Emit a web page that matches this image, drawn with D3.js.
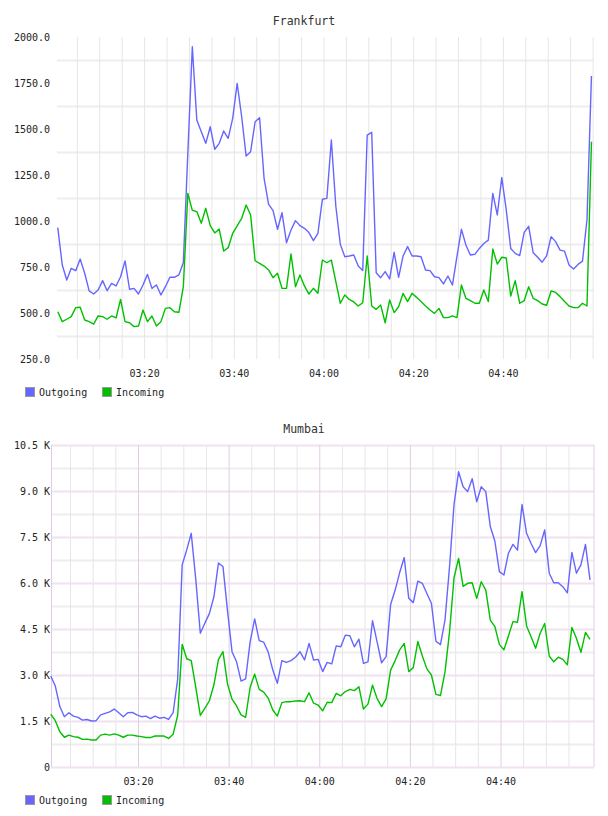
<!DOCTYPE html>
<html>
<head>
<meta charset="utf-8">
<script src="https://cdn.jsdelivr.net/npm/d3@7"></script>
<style>
body { margin: 0; background: #fff; }
text { font-family: "DejaVu Sans Mono", monospace; }
</style>
</head>
<body>
<div id="chart"></div>
<script>
// samples are one minute apart, first one at 03:00:45
const start_time = "03:00:45";
const series_names = ["Outgoing", "Incoming"];

const frankfurt_out = [964, 761, 679, 743, 730, 793, 716, 620, 603, 625, 676, 621, 661, 647, 697, 783, 629, 634, 603, 652,
  710, 634, 652, 598, 643, 694, 694, 707, 775, 1370, 1947, 1549, 1485, 1422, 1512, 1390, 1422, 1489, 1449, 1558,
  1748, 1568, 1353, 1377, 1539, 1561, 1232, 1092, 1056, 955, 1045, 882, 951, 1002, 975, 960, 937, 893, 933, 1118,
  1123, 1440, 1080, 873, 806, 810, 815, 755, 731, 1467, 1482, 719, 692, 725, 685, 830, 694, 810, 861, 810,
  810, 806, 734, 730, 697, 692, 658, 701, 652, 806, 955, 870, 815, 819, 851, 878, 896, 1150, 1033, 1236,
  1060, 851, 824, 812, 938, 971, 828, 803, 776, 810, 915, 888, 842, 836, 761, 739, 764, 782, 1006, 1788];
const frankfurt_in = [507, 453, 466, 480, 529, 531, 462, 453, 440, 484, 480, 466, 484, 473, 574, 453, 447, 426, 429, 516,
  453, 484, 429, 453, 525, 529, 507, 504, 643, 1150, 1058, 1051, 988, 1069, 975, 935, 956, 837, 855, 933,
  973, 1014, 1087, 1033, 784, 770, 755, 734, 692, 716, 634, 634, 821, 643, 707, 647, 603, 634, 607, 788,
  773, 788, 670, 553, 598, 574, 560, 538, 556, 810, 538, 520, 543, 447, 571, 502, 534, 607, 562, 607,
  585, 562, 538, 516, 498, 525, 475, 475, 484, 475, 652, 580, 567, 553, 553, 625, 562, 848, 766, 803,
  799, 592, 676, 553, 567, 643, 580, 567, 549, 542, 620, 612, 589, 562, 538, 529, 529, 553, 538, 1431];

const mumbai_out = [2970, 2640, 1970, 1640, 1770, 1660, 1620, 1530, 1550, 1500, 1510, 1700, 1750, 1800, 1890, 1770, 1640, 1770, 1780, 1700,
  1640, 1660, 1580, 1660, 1590, 1620, 1550, 1770, 2860, 6590, 7080, 7620, 6120, 4360, 4690, 5000, 5550, 6650, 6540, 5100,
  3760, 3430, 2800, 2870, 4090, 4830, 4120, 4070, 3740, 3160, 2730, 3470, 3410, 3470, 3580, 3760, 3490, 4030, 3490, 3510,
  3110, 3410, 3360, 3950, 3920, 4300, 4280, 3920, 4170, 3380, 3430, 4770, 4090, 3400, 3600, 5300, 5770, 6340, 6830, 5500,
  5360, 6060, 5990, 5660, 5340, 4100, 3990, 4790, 6530, 8570, 9630, 9140, 8980, 9400, 8650, 9140, 8980, 7840, 7370, 6370,
  6260, 6970, 7260, 7070, 8560, 7620, 7290, 6990, 7220, 7730, 6320, 6010, 6010, 5880, 5680, 7000, 6320, 6590, 7260, 6100];
const mumbai_in = [1720, 1510, 1150, 970, 1040, 990, 970, 900, 910, 880, 880, 1040, 1070, 1040, 1080, 1040, 970, 1040, 1040, 1010,
  990, 960, 960, 1010, 1010, 1010, 930, 1070, 1680, 4000, 3530, 3470, 2600, 1680, 1910, 2160, 2680, 3500, 3760, 2710,
  2210, 1990, 1700, 1620, 2600, 3030, 2530, 2440, 2240, 1860, 1660, 2100, 2130, 2130, 2150, 2160, 2130, 2420, 2080, 2020,
  1830, 2110, 2100, 2400, 2320, 2460, 2530, 2490, 2620, 1890, 2050, 2670, 2240, 1970, 2220, 3160, 3470, 3820, 4030, 3110,
  3240, 4090, 3620, 3200, 3000, 2370, 2330, 3100, 4400, 6180, 6800, 5890, 5990, 6010, 5500, 6040, 5770, 4790, 4580, 4000,
  3820, 4270, 4740, 4720, 5720, 4600, 4250, 3870, 4360, 4680, 3620, 3430, 3580, 3510, 3330, 4550, 4200, 3740, 4390, 4160];

const frankfurt_yticks = [250, 500, 750, 1000, 1250, 1500, 1750, 2000];
const mumbai_yticks = [0, 1500, 3000, 4500, 6000, 7500, 9000, 10500];
const time_labels = ["03:20", "03:40", "04:00", "04:20", "04:40"];

const blue = "#6666ff";
const green = "#00c000";
const colors = [blue, green];

const width = 608;
const height = 816;

const parseTime = d3.timeParse("%H:%M:%S");
const parseHM = d3.timeParse("%H:%M");
const t0 = parseTime(start_time);
const times = d3.range(frankfurt_out.length).map(i => d3.timeMinute.offset(t0, i));

const svg = d3.select("#chart").append("svg")
    .attr("width", width)
    .attr("height", height);

function panel(opts) {
  const g = svg.append("g");

  const x = d3.scaleTime()
    .domain([parseTime(opts.t_from), parseTime(opts.t_to)])
    .range([opts.left, opts.right]);
  const y = d3.scaleLinear()
    .domain(opts.ydomain)
    .range([opts.bottom, opts.top]);

  const step = opts.yticks[1] - opts.yticks[0];
  const halfTicks = opts.yticks.slice(0, -1).map(v => v + step / 2);
  const minuteTicks = d3.timeMinute.every(5).range(x.domain()[0], x.domain()[1]);
  const majorTimes = time_labels.map(parseHM);
  const isMajor = t => t.getMinutes() % 20 == 0;

  // grid: light lines at half steps and every 5 min
  g.append("g")
    .attr("transform", `translate(${opts.gridLeft},0)`)
    .call(d3.axisLeft(y).tickValues(halfTicks).tickSize(-(opts.right - opts.gridLeft)).tickFormat(""))
    .call(a => a.select(".domain").remove())
    .selectAll("line").attr("stroke", "#eeeeee").attr("stroke-width", 2);

  g.append("g")
    .attr("transform", `translate(0,${opts.bottom})`)
    .call(d3.axisBottom(x).tickValues(opts.pink ? minuteTicks.filter(t => !isMajor(t)) : minuteTicks)
      .tickSize(-(opts.bottom - opts.top)).tickFormat(""))
    .call(a => a.select(".domain").remove())
    .selectAll("line").attr("stroke", "#e6e6e6");

  if (opts.pink) {
    g.append("g")
      .attr("transform", `translate(${opts.gridLeft},0)`)
      .call(d3.axisLeft(y).tickValues(opts.yticks).tickSize(-(opts.right - opts.gridLeft)).tickFormat(""))
      .call(a => a.select(".domain").remove())
      .selectAll("line").attr("stroke", "#f0e2f0").attr("stroke-width", 2);

    g.append("g")
      .attr("transform", `translate(0,${opts.bottom})`)
      .call(d3.axisBottom(x).tickValues(majorTimes).tickSize(-(opts.bottom - opts.top)).tickFormat(""))
      .call(a => a.select(".domain").remove())
      .selectAll("line").attr("stroke", "#e2cce2");

    // frame left and right
    g.append("g").selectAll("line")
      .data([opts.gridLeft + 0.5, opts.right])
      .join("line")
      .attr("x1", d => d).attr("x2", d => d)
      .attr("y1", opts.top).attr("y2", opts.bottom)
      .attr("stroke", "#e2cce2");
  }

  // y labels
  g.append("g")
    .attr("transform", `translate(${opts.labelX + 9},0)`)
    .call(d3.axisLeft(y).tickValues(opts.yticks).tickSize(0).tickPadding(9).tickFormat(opts.yformat))
    .call(a => a.select(".domain").remove())
    .selectAll("text")
      .attr("fill", "#222")
      .style("font-family", "DejaVu Sans Mono")
      .style("font-size", "10px");

  // x labels
  g.append("g")
    .attr("transform", `translate(0,${opts.bottom})`)
    .call(d3.axisBottom(x).tickValues(majorTimes).tickSize(0).tickPadding(11).tickFormat(d3.timeFormat("%H:%M")))
    .call(a => a.select(".domain").remove())
    .selectAll("text")
      .attr("fill", "#222")
      .style("font-family", "DejaVu Sans Mono")
      .style("font-size", "10px");

  // lines
  const line = d3.line()
    .x((d, i) => x(times[i]))
    .y(d => y(d));

  [opts.outgoing, opts.incoming].forEach((s, i) => {
    g.append("path")
      .attr("d", line(s))
      .attr("fill", "none")
      .attr("stroke", colors[i])
      .attr("stroke-width", 1.4)
      .attr("stroke-linejoin", "round");
  });

  // title
  g.append("text")
    .attr("x", 304)
    .attr("y", opts.titleY)
    .attr("text-anchor", "middle")
    .attr("fill", "#333")
    .style("font-size", "11.5px")
    .text(opts.title);

  // legend
  const legend = g.append("g")
    .attr("transform", `translate(25,${opts.legendY})`);
  const items = legend.selectAll("g")
    .data(series_names)
    .join("g")
    .attr("transform", (d, i) => `translate(${i * 77},0)`);
  items.append("rect")
    .attr("x", 0.5).attr("y", 0.5)
    .attr("width", 9).attr("height", 9)
    .attr("fill", (d, i) => colors[i])
    .attr("stroke", "#999");
  items.append("text")
    .attr("x", 14)
    .attr("y", 9)
    .attr("fill", "#222")
    .style("font-size", "10px")
    .text(d => d);
}

panel({
  title: "Frankfurt", titleY: 25,
  outgoing: frankfurt_out, incoming: frankfurt_in,
  ydomain: [250, 2000], yticks: frankfurt_yticks,
  yformat: d3.format(".1f"),
  t_from: "03:00:44", t_to: "05:00:19",
  left: 57.7, gridLeft: 57, right: 594, top: 37, bottom: 359,
  labelX: 50, legendY: 387, pink: false
});

panel({
  title: "Mumbai", titleY: 433,
  outgoing: mumbai_out, incoming: mumbai_in,
  ydomain: [0, 10500], yticks: mumbai_yticks,
  yformat: v => v == 0 ? "0" : d3.format(".1f")(v / 1000) + " K",
  t_from: "03:00:48", t_to: "05:00:38",
  left: 51, gridLeft: 51, right: 594, top: 445, bottom: 767,
  labelX: 50, legendY: 795, pink: true
});
</script>
</body>
</html>
